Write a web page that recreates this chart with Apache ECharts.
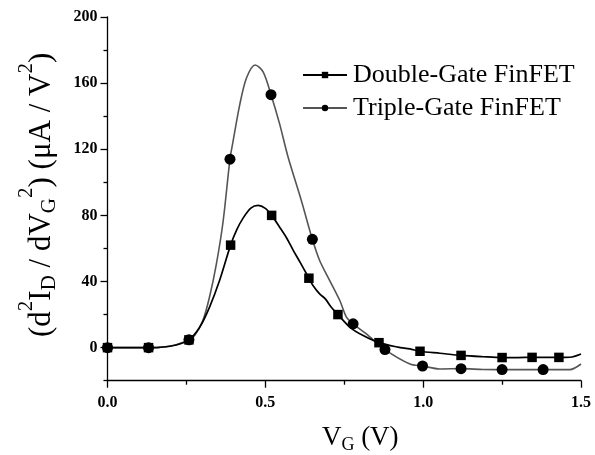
<!DOCTYPE html>
<html>
<head>
<meta charset="utf-8">
<script src="https://cdn.jsdelivr.net/npm/echarts@6/dist/echarts.min.js"></script>
<style>
  html, body { margin: 0; padding: 0; background: #fff; }
  #chart { width: 595px; height: 455px; }
</style>
</head>
<body>
<div id="chart"></div>
<script>
// Second derivative of drain current vs gate voltage, (x = V_G in volts, y = µA/V²)
const seriesNames = ['Double-Gate FinFET', 'Triple-Gate FinFET'];

const doubleGateCurve = [
  [0, 0], [0.13, 0], [0.165, 0.2], [0.218, 1.6], [0.258, 4.7], [0.292, 12.3],
  [0.323, 24.4], [0.355, 40.6], [0.39, 62], [0.41, 71.5], [0.43, 78.5],
  [0.455, 84.5], [0.477, 86], [0.5, 84.2], [0.52, 80], [0.545, 73],
  [0.567, 66.5], [0.588, 59], [0.609, 52], [0.638, 42], [0.651, 37.6],
  [0.672, 32.5], [0.69, 29.5], [0.709, 24.4], [0.73, 20], [0.768, 12.3],
  [0.81, 7.3], [0.86, 3], [0.92, 0.3], [0.958, -0.8], [0.99, -2.2],
  [1.053, -3.4], [1.12, -4.7], [1.19, -5.5], [1.25, -6], [1.3, -6],
  [1.345, -5.9], [1.43, -5.9], [1.465, -5.8], [1.5, -3.8]
];
const doubleGateMarkers = [0, 0.13, 0.258, 0.39, 0.52, 0.638, 0.73, 0.86, 0.99, 1.12, 1.25, 1.345, 1.43];

const tripleGateCurve = [
  [0, 0], [0.13, 0], [0.2, 1], [0.258, 4.7], [0.276, 7.3], [0.302, 16.4],
  [0.323, 30.5], [0.345, 50.7], [0.366, 76], [0.388, 114], [0.397, 124],
  [0.419, 147], [0.44, 163], [0.468, 171], [0.493, 166.8], [0.518, 153],
  [0.545, 135.5], [0.572, 115.3], [0.614, 89], [0.649, 65.5], [0.672, 52.7],
  [0.704, 40.6], [0.736, 28.5], [0.757, 18.4], [0.778, 14.4], [0.82, 8.3],
  [0.879, -1.2], [0.958, -9.9], [0.998, -11.1], [1.053, -12.9], [1.12, -12.7],
  [1.19, -13.2], [1.25, -13.3], [1.38, -13.3], [1.465, -13.3], [1.5, -9.9]
];
const tripleGateMarkers = [0, 0.13, 0.258, 0.388, 0.518, 0.649, 0.778, 0.879, 0.998, 1.12, 1.25, 1.38];

const xTickLabels = ['0.0', '0.5', '1.0', '1.5'];
const yLabelValues = [0, 40, 80, 120, 160, 200];
const yMinorTickValues = [-20, 20, 60, 100, 140, 180];

const serif = "'Liberation Serif', 'Times New Roman', serif";

function withMarkers(curve, markers) {
  return curve.map(p => markers.indexOf(p[0]) >= 0 ? { value: p } : { value: p, symbol: 'none' });
}

const chart = echarts.init(document.getElementById('chart'), null, { renderer: 'canvas' });

const axisLineStyle = { color: '#000', width: 1.3 };

// rich styles for raised / lowered parts of the axis titles
const yTitleRich = {
  m: { fontFamily: serif, fontSize: 31, color: '#000', lineHeight: 32, verticalAlign: 'top', padding: [11, 0, 0, 0] },
  sup: { fontFamily: serif, fontSize: 21, color: '#000', lineHeight: 21, verticalAlign: 'top', padding: [0, 0, 0, 0] },
  sub: { fontFamily: serif, fontSize: 21, color: '#000', lineHeight: 21, verticalAlign: 'top', padding: [23, 0, 0, 0] }
};

chart.setOption({
  backgroundColor: '#fff',
  animation: false,
  textStyle: { fontFamily: serif },
  grid: { left: 107.5, right: 14, top: 17, bottom: 74.3, containLabel: false, outerBoundsMode: 'none' },
  legend: {
    orient: 'vertical',
    left: 297,
    top: 57,
    itemWidth: 44,
    itemHeight: 8,
    itemGap: 7,
    data: seriesNames,
    textStyle: { fontFamily: serif, fontSize: 26, color: '#000', lineHeight: 26, padding: [0, 0, 0, 1] }
  },
  xAxis: {
    type: 'value',
    min: 0, max: 1.5, interval: 0.5,
    name: '{m|V}{s|G}{m| (V)}',
    nameLocation: 'middle',
    nameGap: 44,
    nameTextStyle: {
      padding: [0, 0, 0, 32],
      rich: {
        m: { fontFamily: serif, fontSize: 27, color: '#000', lineHeight: 28, verticalAlign: 'top', padding: [0, 0, 0, 0] },
        s: { fontFamily: serif, fontSize: 18, color: '#000', lineHeight: 18, verticalAlign: 'top', padding: [12, 0, 0, 0] }
      }
    },
    axisLine: { onZero: false, lineStyle: axisLineStyle },
    axisTick: { length: 7, inside: false, lineStyle: axisLineStyle },
    minorTick: { show: true, splitNumber: 2, length: 4, lineStyle: axisLineStyle },
    axisLabel: {
      margin: 14,
      fontFamily: serif, fontSize: 16, fontWeight: 'bold', color: '#000',
      formatter: v => xTickLabels[Math.round(v / 0.5)]
    },
    splitLine: { show: false }
  },
  yAxis: [
    {
      type: 'value',
      position: 'left',
      min: -20, max: 200,
      name: '{m|(d}{sup|2}{m|I}{sub|D}{m| / dV}{sub|G}{sup|2}{m|) (μA / V}{sup|2}{m|)}',
      nameLocation: 'middle',
      nameGap: 60,
      nameTextStyle: { padding: [0, 0, 0, 8], rich: yTitleRich },
      axisLine: { onZero: false, lineStyle: axisLineStyle },
      axisTick: { length: 7, lineStyle: axisLineStyle, customValues: yLabelValues },
      axisLabel: {
        margin: 10,
        fontFamily: serif, fontSize: 16, fontWeight: 'bold', color: '#000',
        customValues: yLabelValues
      },
      splitLine: { show: false }
    },
    {
      type: 'value',
      position: 'left',
      min: -20, max: 200,
      axisLine: { show: false, onZero: false },
      axisTick: { length: 4, lineStyle: axisLineStyle, customValues: yMinorTickValues },
      axisLabel: { show: false },
      splitLine: { show: false }
    }
  ],
  series: [
    {
      name: seriesNames[0],
      type: 'line',
      yAxisIndex: 0,
      smooth: 0.3,
      symbol: 'rect',
      symbolSize: 9.5,
      showAllSymbol: true,
      itemStyle: { color: '#000' },
      lineStyle: { color: '#000', width: 1.7 },
      data: withMarkers(doubleGateCurve, doubleGateMarkers),
      z: 3
    },
    {
      name: seriesNames[1],
      type: 'line',
      yAxisIndex: 0,
      smooth: 0.3,
      symbol: 'circle',
      symbolSize: 11,
      showAllSymbol: true,
      itemStyle: { color: '#000' },
      lineStyle: { color: '#555', width: 1.6 },
      data: withMarkers(tripleGateCurve, tripleGateMarkers),
      z: 2
    }
  ]
});
</script>
</body>
</html>
